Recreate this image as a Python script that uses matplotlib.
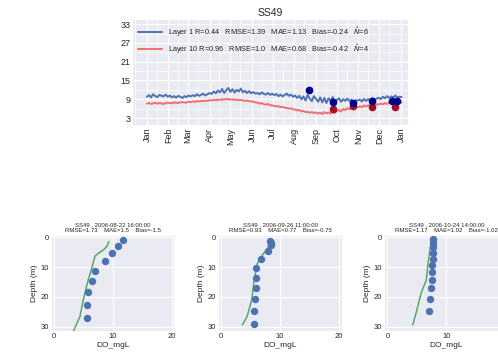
import pandas as pd
import numpy as np
import matplotlib
matplotlib.use("Agg")
import matplotlib.pyplot as plt
import matplotlib.dates as mdates

plt.style.use("seaborn-v0_8-darkgrid")
plt.rcParams["font.family"] = ["Liberation Sans", "DejaVu Sans"]

# --- top panel: modelled time series (every 3 days) ---
layer1 = [9.8, 10.3, 9.6, 10.6, 10.0, 9.7, 10.4, 10.1, 9.9, 10.5, 9.8,
          10.2, 9.6, 10.0, 9.5, 10.1, 9.8, 9.4, 10.0, 9.7, 10.2,
          9.9, 10.3, 10.0, 10.6, 10.1, 10.4, 10.8, 10.2, 10.6, 11.0,
          10.7, 11.5, 10.9, 11.8, 11.2, 12.3, 11.0, 11.9, 12.6, 11.4,
          12.2, 11.1, 12.0, 11.5, 12.4, 11.2, 11.7, 11.0, 11.6, 10.9,
          11.3, 10.8, 11.0, 10.6, 11.2, 10.7, 10.5, 11.0, 10.4, 10.8,
          10.3, 10.7, 10.0, 10.5, 9.9, 10.4, 10.8, 10.1, 10.5, 9.8,
          10.2, 9.4, 10.1, 9.0, 9.9, 8.6, 10.4, 9.2, 8.4, 10.0,
          9.1, 8.2, 9.6, 8.0, 9.4, 7.8, 9.3, 8.5, 9.7, 8.3,
          8.8, 9.3, 8.2, 9.0, 8.5, 9.2, 8.4, 8.9, 8.1, 8.7,
          8.6, 8.9, 8.3, 9.1, 8.5, 9.0, 8.8, 9.4, 8.7, 9.2,
          9.5, 9.0, 9.8, 9.3, 10.0, 9.4, 9.9, 9.6, 10.2, 9.5, 9.8, 9.7]
layer10 = [7.6, 7.8, 7.5, 7.7, 7.9, 7.6, 7.8, 7.7, 7.5, 7.8, 7.9,
           7.8, 7.7, 8.0, 7.9, 7.8, 8.0, 8.1, 7.9, 8.0, 8.2,
           8.1, 8.3, 8.2, 8.4, 8.3, 8.5, 8.4, 8.6, 8.5, 8.7,
           8.6, 8.8, 8.7, 8.9, 8.8, 9.0, 8.9, 9.1, 9.0, 8.9,
           9.0, 8.8, 8.9, 8.7, 8.8, 8.6, 8.5, 8.6, 8.4, 8.3,
           8.2, 8.0, 7.9, 7.6, 7.8, 7.4, 7.3, 7.5, 7.1, 7.0,
           6.9, 6.7, 6.8, 6.5, 6.6, 6.3, 6.2, 6.0, 6.1, 5.8,
           5.7, 5.4, 5.6, 5.1, 5.3, 4.9, 5.0, 4.7, 4.9, 4.6,
           4.8, 4.4, 4.7, 4.3, 4.9, 4.5, 4.8, 4.4, 5.0, 4.7,
           5.2, 5.6, 5.1, 5.9, 5.5, 6.2, 5.8, 6.3, 6.0, 6.5,
           6.4, 6.8, 6.5, 7.0, 6.7, 7.1, 6.9, 7.3, 7.0, 7.4,
           7.3, 7.6, 7.4, 7.8, 7.5, 7.9, 7.7, 8.0, 7.8, 8.1, 7.9, 8.0]
dates = pd.date_range("2006-01-01", periods=len(layer1), freq="3D")

obs1_dates = pd.to_datetime(["2006-08-22", "2006-09-26", "2006-10-24",
                             "2006-11-21", "2006-12-19", "2006-12-27"])
obs1_vals = [12.1, 8.1, 7.9, 8.3, 8.4, 8.6]
obs10_dates = pd.to_datetime(["2006-09-26", "2006-10-24", "2006-11-21", "2006-12-23"])
obs10_vals = [6.0, 7.0, 6.5, 6.6]

label1 = "Layer 1 R=0.44   RMSE=1.39   MAE=1.13   Bias=-0.24   $\\hat{N}$=6"
label10 = "Layer 10 R=0.96   RMSE=1.0   MAE=0.68   Bias=-0.42   $\\hat{N}$=4"

# --- bottom panels: profiles ---
titles = ["SS49 , 2006-08-22 16:00:00\nRMSE=1.73    MAE=1.5    Bias=-1.5",
          "SS49 , 2006-09-26 11:00:00\nRMSE=0.93    MAE=0.77    Bias=-0.75",
          "SS49 , 2006-10-24 14:00:00\nRMSE=1.17    MAE=1.02    Bias=-1.02"]
obs_do = [[11.7, 10.9, 9.9, 8.7, 7.0, 6.5, 5.8, 5.65, 5.65],
          [8.3, 8.45, 8.4, 7.9, 6.8, 5.9, 5.9, 5.9, 5.75, 5.65, 5.6],
          [7.8, 7.8, 7.8, 7.7, 7.7, 7.6, 7.6, 7.5, 7.4, 7.3, 7.1]]
obs_depth = [[0.9, 2.8, 5.2, 8.0, 11.2, 14.7, 18.4, 22.7, 27.0],
             [1.1, 2.0, 2.6, 4.5, 7.4, 10.2, 13.5, 16.9, 20.8, 24.7, 29.1],
             [0.7, 2.0, 3.1, 5.2, 7.1, 9.3, 11.5, 14.3, 17.1, 20.8, 24.7]]
mod_do = [[9.3, 9.0, 8.5, 7.5, 6.95, 6.4, 5.65, 4.97, 4.4, 3.3],
          [8.2, 7.9, 7.0, 6.15, 5.6, 5.2, 4.4, 3.6],
          [7.5, 7.2, 6.9, 6.6, 5.7, 5.0, 4.3]]
mod_depth = [[1.4, 2.9, 4.0, 5.4, 6.3, 10.4, 15.4, 21.0, 26.6, 31.5],
             [0.9, 3.7, 5.9, 8.7, 14.3, 21.0, 26.6, 29.4],
             [0.3, 4.3, 8.7, 14.3, 18.8, 24.4, 29.4]]

fig = plt.figure(figsize=(4.98, 3.58), dpi=100)

ax = fig.add_axes([0.267, 0.651, 0.552, 0.293])
ax.plot(dates, layer1, color="#4c72b0", linewidth=1.4, label=label1)
ax.plot(dates, layer10, color="#f07070", linewidth=1.4, label=label10)
ax.plot(obs10_dates, obs10_vals, "o", color="#a01020", markersize=4.5)
ax.plot(obs1_dates, obs1_vals, "o", color="#00008b", markersize=4.5)
ax.set_xlim(pd.Timestamp("2005-12-12"), pd.Timestamp("2007-01-11"))
ax.set_ylim(0.8, 34.3)
ax.set_yticks([3, 9, 15, 21, 27, 33])
ax.set_yticks([6, 12, 18, 24, 30], minor=True)
ax.xaxis.set_major_locator(mdates.MonthLocator())
ax.xaxis.set_minor_locator(mdates.DayLocator(bymonthday=[15]))
ax.xaxis.set_major_formatter(mdates.DateFormatter("%b"))
ax.tick_params(axis="x", labelrotation=90, labelsize=6.5, pad=2)
ax.tick_params(axis="y", labelsize=6.5, pad=2)
ax.tick_params(which="both", length=0)
ax.grid(which="minor", color="white", linewidth=0.5)
ax.set_title("SS49", fontsize=7.5, pad=3)
ax.legend(loc="upper left", fontsize=5.3, frameon=False, handlelength=3.2,
          borderaxespad=0.3, labelspacing=0.5)

lefts = [0.1036, 0.4392, 0.7731]
for i in range(3):
    a = fig.add_axes([lefts[i], 0.0768, 0.2466, 0.2626])
    a.plot(mod_do[i], mod_depth[i], color="#55a868", linewidth=1.1)
    a.plot(obs_do[i], obs_depth[i], "o", color="#4c72b0", markersize=4.3)
    a.set_xlim(-0.4, 20.4)
    a.set_ylim(31.3, -0.3)
    a.set_xticks([0, 10, 20])
    a.set_yticks([0, 10, 20, 30])
    a.tick_params(labelsize=5.5, length=0, pad=2)
    a.set_xlabel("DO_mgL", fontsize=6, labelpad=1)
    a.set_ylabel("Depth (m)", fontsize=6, labelpad=2)
    a.set_title(titles[i], fontsize=4.3, pad=3, linespacing=1.2)

fig.savefig("out.png", dpi=100)
